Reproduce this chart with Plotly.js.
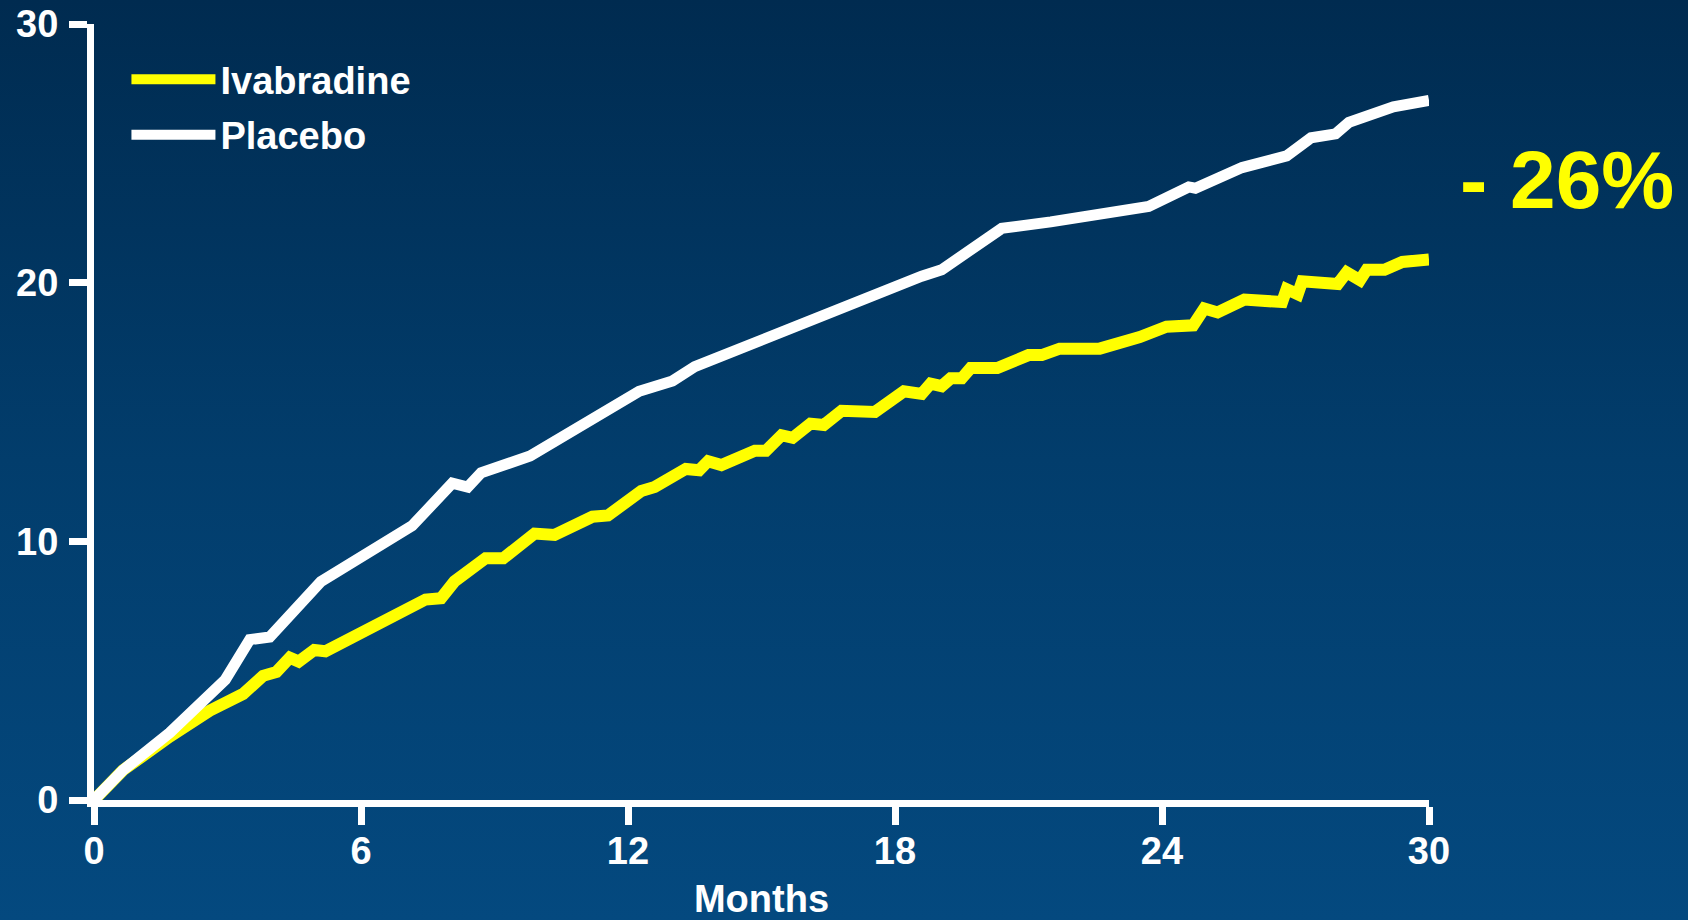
<!DOCTYPE html>
<html>
<head>
<meta charset="utf-8">
<script src="https://cdn.plot.ly/plotly-3.0.1.min.js"></script>
<style>
  html, body { margin: 0; padding: 0; width: 1688px; height: 920px; overflow: hidden;
    background: linear-gradient(180deg, #002b50 0%, #023d6c 50%, #04497f 100%); }
  #chart { width: 1688px; height: 920px; }
</style>
</head>
<body>
<div id="chart"></div>
<script>
// Ivabradine (yellow) cumulative event curve: months vs %
const ivabradineMonths = [0, 0.65, 1.7, 2.6, 3.35, 3.8, 4.1, 4.4, 4.6, 4.95, 5.2, 7.45, 7.8, 8.1, 8.8, 9.2, 9.9, 10.35, 11.2, 11.55, 12.3, 12.6, 13.3, 13.6, 13.8, 14.1, 14.85, 15.1, 15.45, 15.7, 16.1, 16.4, 16.8, 17.55, 18.2, 18.6, 18.8, 19.05, 19.25, 19.5, 19.7, 20.3, 21.0, 21.3, 21.7, 22.6, 23.5, 24.1, 24.7, 24.95, 25.25, 25.85, 26.7, 26.8, 27.05, 27.15, 27.95, 28.15, 28.45, 28.6, 29.0, 29.4, 30.0];
const ivabradineValues = [0, 1.15, 2.45, 3.45, 4.1, 4.8, 4.95, 5.5, 5.35, 5.8, 5.75, 7.75, 7.8, 8.45, 9.35, 9.35, 10.3, 10.25, 10.95, 11.0, 11.95, 12.1, 12.8, 12.75, 13.1, 12.95, 13.5, 13.5, 14.1, 14.0, 14.55, 14.5, 15.05, 15.0, 15.8, 15.7, 16.1, 16.0, 16.3, 16.3, 16.7, 16.7, 17.2, 17.2, 17.45, 17.45, 17.9, 18.3, 18.35, 19.0, 18.85, 19.35, 19.25, 19.75, 19.55, 20.05, 19.95, 20.4, 20.1, 20.5, 20.5, 20.8, 20.9];

// Placebo (white) cumulative event curve
const placeboMonths = [0, 0.65, 1.7, 2.95, 3.5, 3.95, 5.1, 6.6, 7.15, 8.05, 8.4, 8.7, 9.8, 12.25, 13.0, 13.5, 16.5, 16.8, 18.6, 19.05, 20.4, 21.5, 23.7, 24.6, 24.75, 25.8, 26.8, 27.35, 27.9, 28.2, 29.2, 30.0];
const placeboValues = [0, 1.15, 2.6, 4.65, 6.2, 6.3, 8.45, 10.1, 10.6, 12.25, 12.1, 12.65, 13.3, 15.8, 16.2, 16.75, 18.85, 19.0, 20.25, 20.5, 22.1, 22.35, 22.95, 23.7, 23.65, 24.45, 24.9, 25.6, 25.75, 26.2, 26.8, 27.05];

const seriesNames = ["Ivabradine", "Placebo"];
const xTickValues = [0, 6, 12, 18, 24, 30];
const yTickValues = [0, 10, 20, 30];
const xAxisTitle = "Months";
const reductionLabel = "- 26%";

const FONT = "'Liberation Sans', Arial, Helvetica, sans-serif";
const TXT = { family: FONT, size: 38, color: "#ffffff", weight: "bold" };

const traces = [
  {
    x: ivabradineMonths, y: ivabradineValues, name: seriesNames[0],
    type: "scatter", mode: "lines", legendgroup: "a",
    line: { color: "#ffff00", width: 12, shape: "linear" },
    hoverinfo: "skip"
  },
  {
    x: placeboMonths, y: placeboValues, name: seriesNames[1],
    type: "scatter", mode: "lines", legendgroup: "b",
    line: { color: "#ffffff", width: 11, shape: "linear" },
    hoverinfo: "skip"
  }
];

const layout = {
  width: 1688, height: 920,
  paper_bgcolor: "rgba(0,0,0,0)",
  plot_bgcolor: "rgba(0,0,0,0)",
  margin: { l: 94, r: 259, t: 24, b: 120, pad: 0 },
  font: TXT,
  showlegend: true,
  legend: {
    x: 0.0243, y: 0.969, xanchor: "left", yanchor: "top",
    bgcolor: "rgba(0,0,0,0)", borderwidth: 0,
    font: TXT,
    itemwidth: 84, traceorder: "grouped", tracegroupgap: 3
  },
  xaxis: {
    range: [0, 30], tickvals: xTickValues, ticktext: xTickValues.map(String),
    showgrid: false, zeroline: false, showline: true, linecolor: "#ffffff", linewidth: 7,
    ticks: "outside", ticklen: 18, tickwidth: 7, tickcolor: "#ffffff",
    tickfont: TXT, ticklabelstandoff: -7,
    title: { text: xAxisTitle, standoff: 25, font: TXT },
    automargin: false, fixedrange: true
  },
  yaxis: {
    range: [0, 30], tickvals: yTickValues, ticktext: yTickValues.map(String),
    showgrid: false, zeroline: false, showline: true, linecolor: "#ffffff", linewidth: 7,
    ticks: "outside", ticklen: 18, tickwidth: 7, tickcolor: "#ffffff",
    tickfont: TXT, ticklabelstandoff: 3,
    automargin: false, fixedrange: true
  },
  annotations: [
    {
      text: reductionLabel, xref: "paper", yref: "paper", x: 1.103, y: 0.80,
      xanchor: "center", yanchor: "middle", showarrow: false,
      font: { family: FONT, size: 82, color: "#ffff00", weight: "bold" }
    }
  ]
};

Plotly.newPlot("chart", traces, layout, { displayModeBar: false, staticPlot: true });
</script>
</body>
</html>
